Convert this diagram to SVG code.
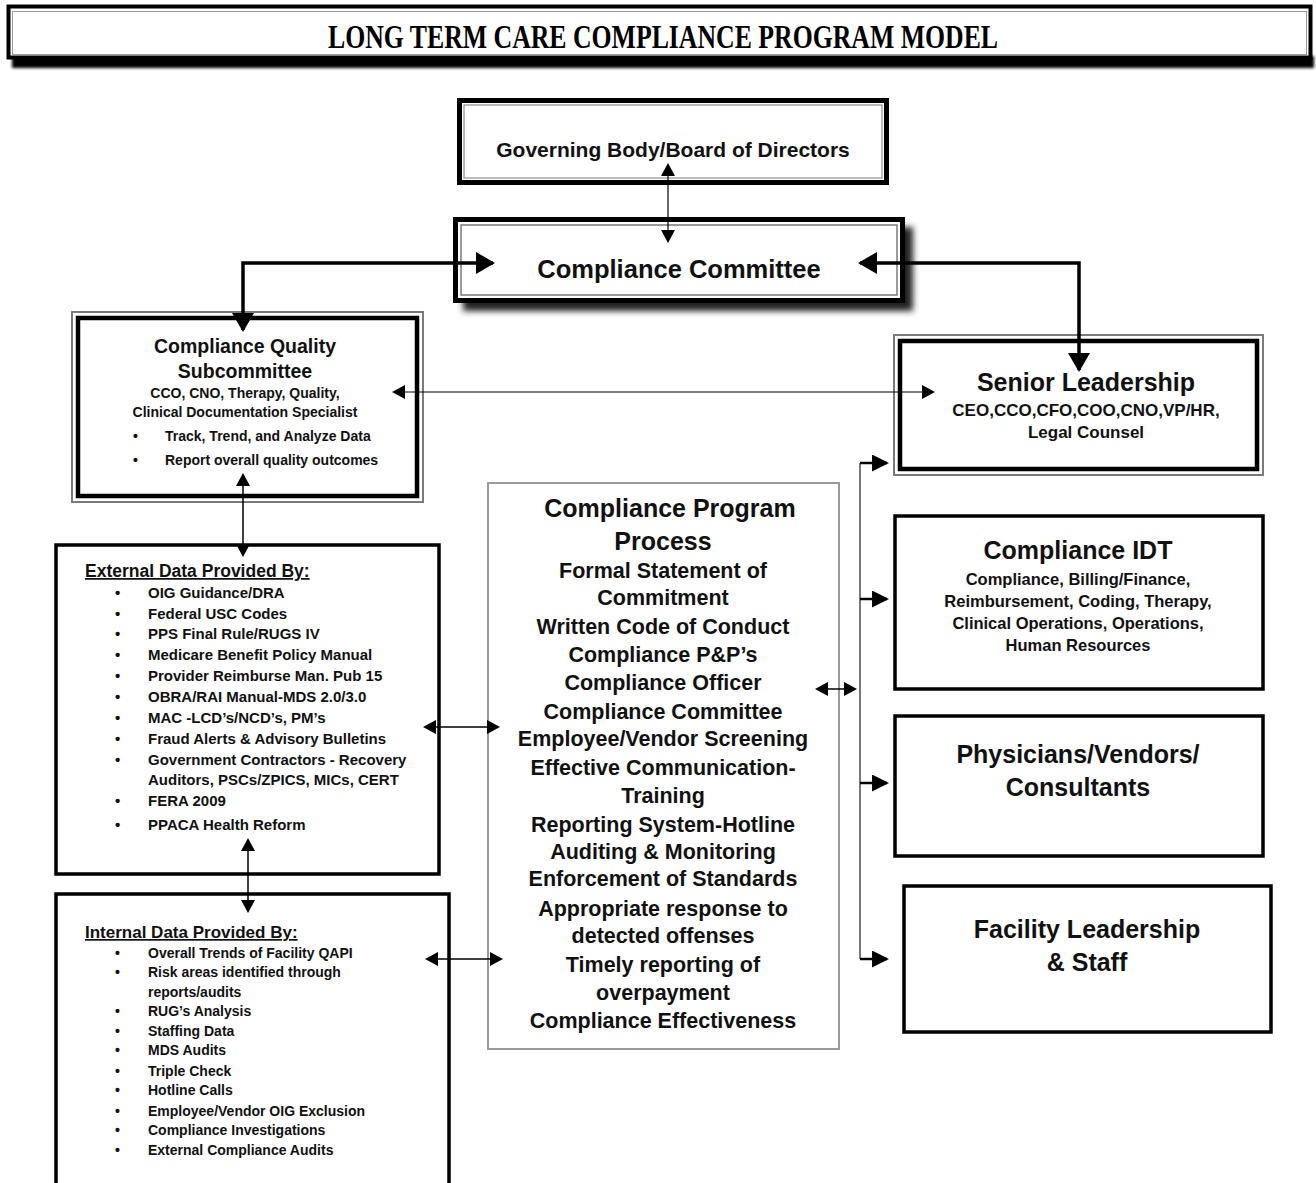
<svg xmlns="http://www.w3.org/2000/svg" width="1316" height="1183" viewBox="0 0 1316 1183">
<style>
.t{font-family:"Liberation Sans",Arial,sans-serif;font-weight:bold;fill:#111}
.c{text-anchor:middle}
.box{fill:#fff;stroke:#000}
.thin{fill:none;stroke:#7a7a7a}
.cn{fill:none;stroke:#000}
.lst{font-size:15px}
.lsi{font-size:14px}
.big{font-size:25px}
.mid{font-size:21.5px}
</style>
<defs>
<filter id="blur" x="-10%" y="-10%" width="120%" height="130%"><feGaussianBlur stdDeviation="3"/></filter>
<filter id="blur1" x="-5%" y="-50%" width="110%" height="200%"><feGaussianBlur stdDeviation="1.5"/></filter>
<marker id="mBig" viewBox="0 0 19 22" refX="17" refY="11" markerWidth="19" markerHeight="22" markerUnits="userSpaceOnUse" orient="auto-start-reverse"><path d="M0,0 L19,11 L0,22 z" fill="#000"/></marker>
<marker id="mMed" viewBox="0 0 17 17" refX="15" refY="8.5" markerWidth="17" markerHeight="17" markerUnits="userSpaceOnUse" orient="auto-start-reverse"><path d="M0,0 L17,8.5 L0,17 z" fill="#000"/></marker>
<marker id="mSm" viewBox="0 0 13 14" refX="11" refY="7" markerWidth="13" markerHeight="14" markerUnits="userSpaceOnUse" orient="auto-start-reverse"><path d="M0,0 L13,7 L0,14 z" fill="#000"/></marker>
</defs>
<rect width="1316" height="1183" fill="#fff"/>

<g id="title">
<rect x="12" y="56" width="1302" height="12" fill="#000" filter="url(#blur1)"/>
<rect x="8.5" y="6.5" width="1302" height="51" fill="#fff" stroke="#000" stroke-width="4"/>
<rect x="12.5" y="11.5" width="1294" height="43" fill="none" stroke="#999" stroke-width="1"/>
<text x="328" y="48" textLength="670" lengthAdjust="spacingAndGlyphs" style="font-family:'Liberation Serif','Times New Roman',serif;font-weight:bold;font-size:34px;fill:#000">LONG TERM CARE COMPLIANCE PROGRAM MODEL</text>
</g>

<g id="governing-body">
<rect class="box" x="459.5" y="100.5" width="427" height="82" stroke-width="5"/>
<rect class="thin" x="464" y="105" width="418" height="73" stroke-width="1"/>
<text class="t c" x="673" y="157" style="font-size:21px">Governing Body/Board of Directors</text>
</g>

<g id="compliance-committee">
<rect x="463" y="227" width="450" height="84" fill="#222" filter="url(#blur)"/>
<rect class="box" x="455.5" y="219.5" width="447" height="81" stroke-width="5"/>
<rect class="thin" x="461" y="225" width="436" height="70" stroke-width="1.5"/>
<text class="t c big" x="679" y="278" style="font-size:25.5px">Compliance Committee</text>
</g>

<g id="compliance-quality-subcommittee">
<rect class="thin" x="72" y="312" width="351" height="190" stroke-width="2" fill="#fff"/>
<rect class="box" x="78" y="318" width="339" height="178" stroke-width="4.5"/>
<text class="t c" x="245" y="353" style="font-size:19.5px">Compliance Quality</text>
<text class="t c" x="245" y="378" style="font-size:19.5px">Subcommittee</text>
<text class="t c" x="245" y="398" style="font-size:14px">CCO, CNO, Therapy, Quality,</text>
<text class="t c" x="245" y="417" style="font-size:14px">Clinical Documentation Specialist</text>
<text class="t" x="133" y="441" style="font-size:14px">•</text>
<text class="t" x="165" y="441" style="font-size:14px">Track, Trend, and Analyze Data</text>
<text class="t" x="133" y="465" style="font-size:14px">•</text>
<text class="t" x="165" y="465" style="font-size:14px">Report overall quality outcomes</text>
</g>

<g id="senior-leadership">
<rect class="thin" x="894" y="335" width="369" height="140" stroke-width="2" fill="#fff"/>
<rect class="box" x="900" y="341" width="357" height="128" stroke-width="4.5"/>
<text class="t c big" x="1086" y="391">Senior Leadership</text>
<text class="t c" x="1086" y="416" style="font-size:17px">CEO,CCO,CFO,COO,CNO,VP/HR,</text>
<text class="t c" x="1086" y="438" style="font-size:17px">Legal Counsel</text>
</g>

<g id="external-data">
<rect class="box" x="56" y="545" width="383" height="329" stroke-width="3.5"/>
<text class="t" x="85" y="577" style="font-size:17.5px;text-decoration:underline">External Data Provided By:</text>
<g class="t lst">
<text x="115" y="598">•</text><text x="148" y="598">OIG Guidance/DRA</text>
<text x="115" y="619">•</text><text x="148" y="619">Federal USC Codes</text>
<text x="115" y="639">•</text><text x="148" y="639">PPS Final Rule/RUGS IV</text>
<text x="115" y="660">•</text><text x="148" y="660">Medicare Benefit Policy Manual</text>
<text x="115" y="681">•</text><text x="148" y="681">Provider Reimburse Man. Pub 15</text>
<text x="115" y="702">•</text><text x="148" y="702">OBRA/RAI Manual-MDS 2.0/3.0</text>
<text x="115" y="723">•</text><text x="148" y="723">MAC -LCD’s/NCD’s, PM’s</text>
<text x="115" y="744">•</text><text x="148" y="744">Fraud Alerts &amp; Advisory Bulletins</text>
<text x="115" y="765">•</text><text x="148" y="765">Government Contractors - Recovery</text>
<text x="148" y="785">Auditors, PSCs/ZPICS, MICs, CERT</text>
<text x="115" y="806">•</text><text x="148" y="806">FERA 2009</text>
<text x="115" y="830">•</text><text x="148" y="830">PPACA Health Reform</text>
</g>
</g>

<g id="internal-data">
<rect class="box" x="56" y="894" width="393" height="300" stroke-width="3.5"/>
<text class="t" x="85" y="938" style="font-size:17px;text-decoration:underline">Internal Data Provided By:</text>
<g class="t lsi">
<text x="115" y="958">•</text><text x="148" y="958">Overall Trends of Facility QAPI</text>
<text x="115" y="977">•</text><text x="148" y="977">Risk areas identified through</text>
<text x="148" y="997">reports/audits</text>
<text x="115" y="1016">•</text><text x="148" y="1016">RUG’s Analysis</text>
<text x="115" y="1036">•</text><text x="148" y="1036">Staffing Data</text>
<text x="115" y="1055">•</text><text x="148" y="1055">MDS Audits</text>
<text x="115" y="1076">•</text><text x="148" y="1076">Triple Check</text>
<text x="115" y="1095">•</text><text x="148" y="1095">Hotline Calls</text>
<text x="115" y="1116">•</text><text x="148" y="1116">Employee/Vendor OIG Exclusion</text>
<text x="115" y="1135">•</text><text x="148" y="1135">Compliance Investigations</text>
<text x="115" y="1155">•</text><text x="148" y="1155">External Compliance Audits</text>
</g>
</g>

<g id="compliance-program-process">
<rect x="488" y="483" width="351" height="566" fill="#fff" stroke="#999" stroke-width="2"/>
<text class="t c big" x="670" y="517">Compliance Program</text>
<text class="t c big" x="663" y="550">Process</text>
<g class="t c mid">
<text x="663" y="578">Formal Statement of</text>
<text x="663" y="605">Commitment</text>
<text x="663" y="634">Written Code of Conduct</text>
<text x="663" y="662">Compliance P&amp;P’s</text>
<text x="663" y="690">Compliance Officer</text>
<text x="663" y="719">Compliance Committee</text>
<text x="663" y="746">Employee/Vendor Screening</text>
<text x="663" y="775">Effective Communication-</text>
<text x="663" y="803">Training</text>
<text x="663" y="832">Reporting System-Hotline</text>
<text x="663" y="859">Auditing &amp; Monitoring</text>
<text x="663" y="886">Enforcement of Standards</text>
<text x="663" y="916">Appropriate response to</text>
<text x="663" y="943">detected offenses</text>
<text x="663" y="972">Timely reporting of</text>
<text x="663" y="1000">overpayment</text>
<text x="663" y="1028">Compliance Effectiveness</text>
</g>
</g>

<g id="compliance-idt">
<rect class="box" x="895" y="516" width="368" height="173" stroke-width="3.5"/>
<text class="t c big" x="1078" y="559">Compliance IDT</text>
<g class="t c" style="font-size:16.5px">
<text x="1078" y="585">Compliance, Billing/Finance,</text>
<text x="1078" y="607">Reimbursement, Coding, Therapy,</text>
<text x="1078" y="629">Clinical Operations, Operations,</text>
<text x="1078" y="651">Human Resources</text>
</g>
</g>

<g id="physicians-vendors">
<rect class="box" x="895" y="716" width="368" height="140" stroke-width="3.5"/>
<text class="t c big" x="1078" y="763">Physicians/Vendors/</text>
<text class="t c big" x="1078" y="796">Consultants</text>
</g>

<g id="facility-leadership">
<rect class="box" x="904" y="886" width="367" height="146" stroke-width="3.5"/>
<text class="t c big" x="1087" y="938">Facility Leadership</text>
<text class="t c big" x="1087" y="971">&amp; Staff</text>
</g>

<g id="connectors">
<path class="cn" d="M668,165 L668,241" stroke-width="1.2" marker-start="url(#mSm)" marker-end="url(#mSm)"/>
<path class="cn" d="M243,330 L243,263 L493,263" stroke-width="3.5" marker-start="url(#mBig)" marker-end="url(#mBig)"/>
<path class="cn" d="M860,263 L1079,263 L1079,370" stroke-width="3.5" marker-start="url(#mBig)" marker-end="url(#mBig)"/>
<path class="cn" d="M394,392 L933,392" stroke-width="1.2" marker-start="url(#mSm)" marker-end="url(#mSm)"/>
<path class="cn" d="M243,475 L243,555" stroke-width="1.5" marker-start="url(#mSm)" marker-end="url(#mSm)"/>
<path class="cn" d="M248,840 L248,911" stroke-width="1.5" marker-start="url(#mSm)" marker-end="url(#mSm)"/>
<path class="cn" d="M425,727 L498,727" stroke-width="1.5" marker-start="url(#mSm)" marker-end="url(#mSm)"/>
<path class="cn" d="M427,959 L501,959" stroke-width="1.5" marker-start="url(#mSm)" marker-end="url(#mSm)"/>
<path class="cn" d="M817,689 L855,689" stroke-width="1.5" marker-start="url(#mSm)" marker-end="url(#mSm)"/>
<path d="M860,463 L860,959" fill="none" stroke="#777" stroke-width="2"/>
<path class="cn" d="M860,463 L887,463" stroke-width="2.5" marker-end="url(#mMed)"/>
<path class="cn" d="M860,599 L887,599" stroke-width="2.5" marker-end="url(#mMed)"/>
<path class="cn" d="M860,783 L887,783" stroke-width="2.5" marker-end="url(#mMed)"/>
<path class="cn" d="M860,959 L887,959" stroke-width="2.5" marker-end="url(#mMed)"/>
</g>
</svg>
